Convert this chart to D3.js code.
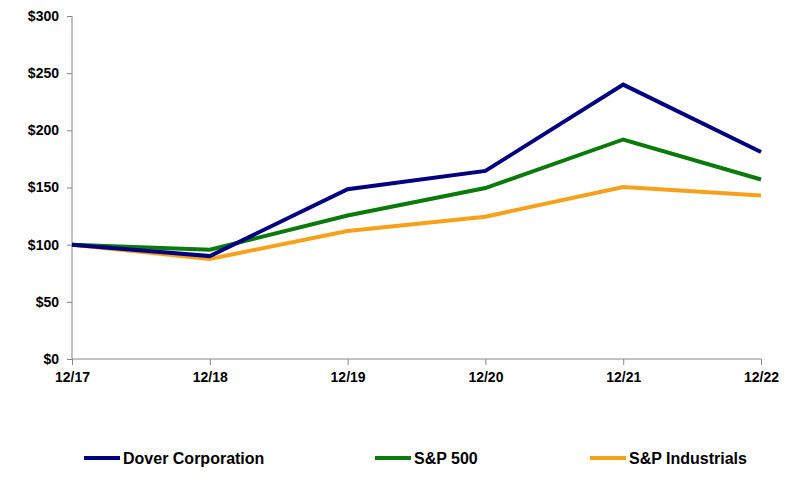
<!DOCTYPE html>
<html><head><meta charset="utf-8">
<script src="https://cdn.jsdelivr.net/npm/d3@7"></script>
<style>
body{margin:0;background:#fff;}
text{font-family:"Liberation Sans",Arial,sans-serif;font-weight:bold;fill:#000;}
</style></head>
<body><svg id="c" width="799" height="481"></svg>
<script>
const categories = ["12/17","12/18","12/19","12/20","12/21","12/22"];
const dover = [100, 90, 148.5, 164.5, 240, 181];
const sp500 = [100, 95.5, 125.5, 149.5, 192, 157];
const spIndustrials = [100, 87.5, 112, 124.5, 150.5, 143];
const yTicks = [0, 50, 100, 150, 200, 250, 300];
const seriesNames = ["Dover Corporation", "S&P 500", "S&P Industrials"];
const colors = ["#000080", "#0a7a0a", "#f7a11a"];

const svg = d3.select("#c");
const x = d3.scalePoint().domain(categories).range([72, 761]);
const y = d3.scaleLinear().domain([0, 300]).range([359, 16]);

const yAxis = d3.axisLeft(y).tickValues(yTicks).tickFormat(d => "$" + d).tickSize(5).tickPadding(8);
const gy = svg.append("g").attr("transform", "translate(72,0)").call(yAxis);
gy.selectAll("text").style("font-size", "14px");
const xAxis = d3.axisBottom(x).tickSize(6).tickPadding(7);
const gx = svg.append("g").attr("transform", "translate(0,359)").call(xAxis);
gx.selectAll("text").style("font-size", "14px");
svg.selectAll(".domain, .tick line").attr("stroke", "#868686");
gy.select(".domain").attr("d", "M72,16V359").attr("transform","translate(-72,0)");
gx.select(".domain").attr("d", "M72,0H761");

const data = [dover, sp500, spIndustrials];
const line = d3.line().x((d, i) => x(categories[i])).y(d => y(d));
[2, 1, 0].forEach(k => {
  svg.append("path").datum(data[k]).attr("d", line)
    .attr("fill", "none").attr("stroke", colors[k]).attr("stroke-width", 4)
    .attr("stroke-linejoin", "miter");
});

const legendX = [84, 375, 590];
const lg = svg.append("g");
seriesNames.forEach((n, i) => {
  lg.append("line").attr("x1", legendX[i]).attr("x2", legendX[i] + 36)
    .attr("y1", 458).attr("y2", 458).attr("stroke", colors[i]).attr("stroke-width", 4);
  lg.append("text").attr("x", legendX[i] + 39).attr("y", 464)
    .style("font-size", "16px").text(n);
});
</script></body></html>
